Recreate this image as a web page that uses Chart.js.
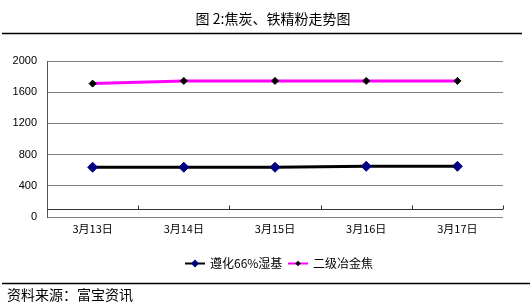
<!DOCTYPE html>
<html>
<head>
<meta charset="utf-8">
<script src="https://cdn.jsdelivr.net/npm/chart.js@4/dist/chart.umd.min.js"></script>
<style>
  html, body { margin: 0; padding: 0; background: #fff; }
  #wrap { width: 532px; height: 305px; position: relative; }
</style>
</head>
<body>
<div id="wrap"><canvas id="c" width="532" height="305"></canvas></div>
<script>
// chart data
const categories = ['3月13日', '3月14日', '3月15日', '3月16日', '3月17日'];
const zunhua = [638, 638, 638, 650, 650];
const coke = [1710, 1745, 1745, 1745, 1745];
const seriesNames = ['遵化66%湿基', '二级冶金焦'];
const yTicks = [0, 400, 800, 1200, 1600, 2000];
const axisCross = 100;

const cjk = '"Noto Sans CJK SC", "Noto Sans", sans-serif';

// title, rules, legend, source, and the category axis line crossing at 100
const decor = {
  id: 'decor',
  beforeDatasetsDraw(chart) {
    const { ctx, chartArea: a, scales: { x, y } } = chart;
    const yy = Math.round(y.getPixelForValue(axisCross)) + 0.5;
    ctx.save();
    ctx.strokeStyle = '#333';
    ctx.lineWidth = 1;
    ctx.beginPath();
    ctx.moveTo(a.left, yy);
    ctx.lineTo(a.right, yy);
    for (let i = 0; i < categories.length; i++) {
      const px = Math.round(x.getPixelForValue(i) + (x.getPixelForValue(1) - x.getPixelForValue(0)) / 2) + 0.5;
      ctx.moveTo(px, yy);
      ctx.lineTo(px, yy - 4);
    }
    ctx.stroke();
    ctx.restore();
  },
  afterDraw(chart) {
    const { ctx } = chart;
    ctx.save();
    ctx.fillStyle = '#000';
    ctx.textBaseline = 'middle';
    ctx.font = '14px ' + cjk;
    ctx.textAlign = 'center';
    ctx.fillText('图 2:焦炭、铁精粉走势图', 273, 19);

    ctx.strokeStyle = '#000';
    ctx.lineWidth = 1.5;
    ctx.beginPath();
    ctx.moveTo(2, 33.5); ctx.lineTo(522, 33.5);
    ctx.moveTo(2, 283.5); ctx.lineTo(530, 283.5);
    ctx.stroke();

    ctx.textAlign = 'left';
    ctx.font = '14px ' + cjk;
    ctx.fillText('资料来源：富宝资讯', 7, 295);

    // legend
    const items = [[185, 210], [288, 313]];
    chart.data.datasets.forEach((ds, i) => {
      const [lx, tx] = items[i];
      const ly = 263.5;
      ctx.strokeStyle = ds.borderColor;
      ctx.lineWidth = 2;
      ctx.beginPath();
      ctx.moveTo(lx, ly); ctx.lineTo(lx + 20, ly);
      ctx.stroke();
      const r = ds.pointRadius * 0.8;
      ctx.fillStyle = ds.pointBackgroundColor;
      ctx.beginPath();
      ctx.moveTo(lx + 10, ly - r); ctx.lineTo(lx + 10 + r, ly);
      ctx.lineTo(lx + 10, ly + r); ctx.lineTo(lx + 10 - r, ly);
      ctx.closePath();
      ctx.fill();
      ctx.fillStyle = '#000';
      ctx.font = '12px ' + cjk;
      ctx.fillText(ds.label, tx, ly);
    });
    ctx.restore();
  }
};

new Chart(document.getElementById('c'), {
  type: 'line',
  data: {
    labels: categories,
    datasets: [{
      label: seriesNames[0],
      data: zunhua,
      borderColor: '#000000',
      borderWidth: 3,
      pointStyle: 'rectRot',
      pointRadius: 5,
      pointBackgroundColor: '#000080',
      pointBorderColor: '#000080',
      pointBorderWidth: 1,
      tension: 0,
    }, {
      label: seriesNames[1],
      data: coke,
      borderColor: '#ff00ff',
      borderWidth: 3,
      pointStyle: 'rectRot',
      pointRadius: 3.5,
      pointBackgroundColor: '#000000',
      pointBorderColor: '#000000',
      pointBorderWidth: 1,
      tension: 0,
    }],
  },
  options: {
    responsive: false,
    animation: false,
    events: [],
    layout: { padding: { top: 61, right: 29, left: 0, bottom: 0 } },
    plugins: { legend: { display: false }, title: { display: false }, tooltip: { enabled: false } },
    scales: {
      x: {
        offset: true,
        grid: { display: false, drawTicks: false },
        border: { display: false },
        ticks: { color: '#000', padding: 5, font: { family: cjk, size: 11 } },
        afterFit: s => { s.height = 88; },
      },
      y: {
        min: 0, max: 2000,
        afterBuildTicks: s => { s.ticks = yTicks.map(v => ({ value: v })); },
        grid: { color: '#808080', lineWidth: 1, drawTicks: false },
        border: { color: '#555', width: 1 },
        ticks: {
          color: '#000', padding: 10,
          font: { family: 'Arial, "Liberation Sans", sans-serif', size: 11 },
          callback: v => String(v),
        },
        afterFit: s => { s.width = 47; },
      },
    },
  },
  plugins: [decor],
});
</script>
</body>
</html>
